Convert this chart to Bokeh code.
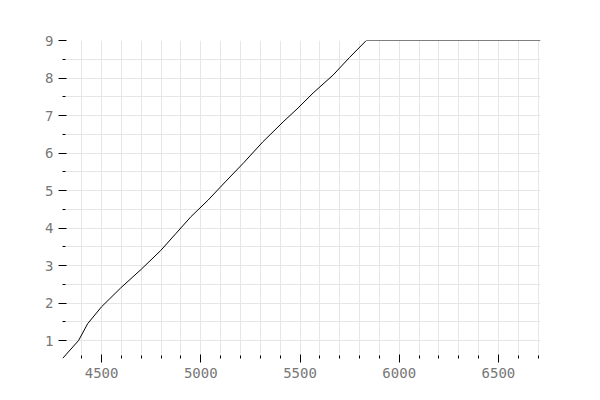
from bokeh.plotting import figure
from bokeh.embed import file_html
from bokeh.resources import INLINE
from bokeh.models import Range1d, SingleIntervalTicker

xs = [4303, 4384, 4430, 4500, 4596, 4700, 4798, 4874, 4950, 5036, 5127, 5218, 5313, 5419, 5490, 5566, 5667, 5750, 5834, 6712]
ys = [0.52, 1.0, 1.45, 1.9, 2.4, 2.9, 3.4, 3.85, 4.3, 4.74, 5.25, 5.75, 6.3, 6.85, 7.2, 7.6, 8.08, 8.55, 9.0, 9.0]

p = figure(width=584, height=384, output_backend="svg", toolbar_location=None,
           x_range=Range1d(4303, 6712), y_range=Range1d(0.52, 9.0),
           min_border_left=62, min_border_right=44, min_border_top=40, min_border_bottom=26)
p.line(xs, ys, line_color="black", line_width=1)
p.outline_line_color = None
p.xaxis.ticker = SingleIntervalTicker(interval=500, num_minor_ticks=5)
p.yaxis.ticker = SingleIntervalTicker(interval=1, num_minor_ticks=2)
for ax in (p.xaxis[0], p.yaxis[0]):
    ax.axis_line_color = None
    ax.major_label_text_font = "DejaVu Sans Mono"
    ax.major_label_text_font_size = "14px"
    ax.major_label_text_color = "#777777"
    ax.major_tick_in = 4
    ax.major_tick_out = 4
    ax.minor_tick_in = 3
    ax.minor_tick_out = 0
    ax.major_tick_line_color = "black"
    ax.minor_tick_line_color = "black"
for g in (p.xgrid[0], p.ygrid[0]):
    g.grid_line_color = "#e6e6e6"
    g.minor_grid_line_color = None
p.xgrid[0].ticker = SingleIntervalTicker(interval=100, num_minor_ticks=0)
p.ygrid[0].ticker = SingleIntervalTicker(interval=0.5, num_minor_ticks=0)
open("out.html", "w").write(file_html(p, INLINE))
